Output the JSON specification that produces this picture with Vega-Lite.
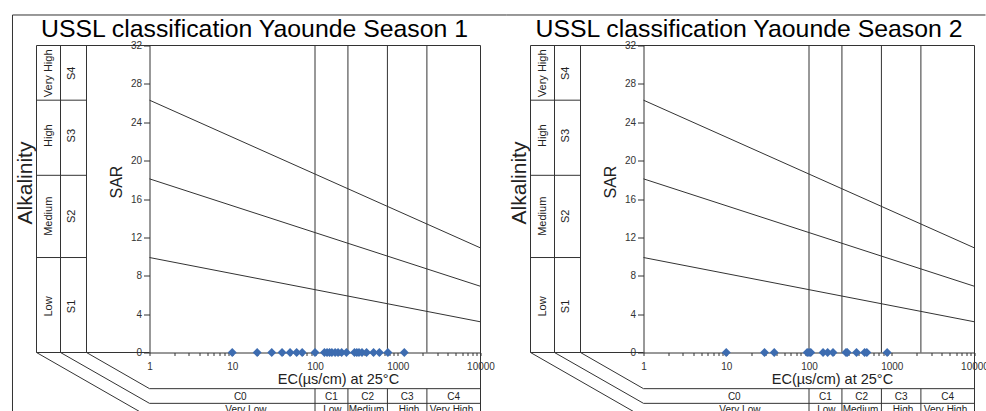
{
  "$schema": "https://vega.github.io/schema/vega-lite/v6.json",
  "padding": {"left": 11.5, "top": 13.5, "right": -2, "bottom": -3},
  "bounds": "flush",
  "spacing": 163,
  "config": {
    "view": {"stroke": null},
    "font": "Liberation Sans",
    "axis": {"grid": false, "domainColor": "#333", "tickColor": "#333", "labelColor": "#333", "labelFont": "Liberation Sans", "domainWidth": 1, "tickWidth": 1}
  },
  "datasets": {
    "frame": [
      {"part": "outer", "panel": "p1", "ec": 0.0221, "ec2": 0.0221, "sar": 35.18, "sar2": -6.15},
      {"part": "outer", "panel": "p1", "ec": 0.0221, "ec2": 20620, "sar": 35.18, "sar2": 35.18},
      {"part": "outer", "panel": "p2", "ec": 0.0221, "ec2": 13585, "sar": 35.18, "sar2": 35.18},
      {"part": "sar table", "panel": "both", "ec": 0.0431, "ec2": 0.0431, "sar": 0, "sar2": 32},
      {"part": "sar table", "panel": "both", "ec": 0.08405, "ec2": 0.08405, "sar": 0, "sar2": 32},
      {"part": "sar table", "panel": "both", "ec": 0.1733, "ec2": 0.1733, "sar": 0, "sar2": 32},
      {"part": "sar table", "panel": "both", "ec": 0.0431, "ec2": 0.1733, "sar": 26.3, "sar2": 26.3},
      {"part": "sar table", "panel": "both", "ec": 0.0431, "ec2": 0.1733, "sar": 18.47, "sar2": 18.47},
      {"part": "sar table", "panel": "both", "ec": 0.0431, "ec2": 0.1733, "sar": 9.9, "sar2": 9.9},
      {"part": "border", "panel": "both", "ec": 0.0431, "ec2": 10000, "sar": 32, "sar2": 32},
      {"part": "border", "panel": "both", "ec": 0.0431, "ec2": 1, "sar": 0, "sar2": 0},
      {"part": "border", "panel": "both", "ec": 10000, "ec2": 10000, "sar": 32, "sar2": -6.15},
      {"part": "ec class", "panel": "both", "ec": 100, "ec2": 100, "sar": 0, "sar2": 32},
      {"part": "ec class", "panel": "both", "ec": 250, "ec2": 250, "sar": 0, "sar2": 32},
      {"part": "ec class", "panel": "both", "ec": 750, "ec2": 750, "sar": 0, "sar2": 32},
      {"part": "ec class", "panel": "both", "ec": 2250, "ec2": 2250, "sar": 0, "sar2": 32},
      {"part": "ec table", "panel": "both", "ec": 100, "ec2": 100, "sar": -3.77, "sar2": -6.15},
      {"part": "ec table", "panel": "both", "ec": 250, "ec2": 250, "sar": -3.77, "sar2": -6.15},
      {"part": "ec table", "panel": "both", "ec": 750, "ec2": 750, "sar": -3.77, "sar2": -6.15},
      {"part": "ec table", "panel": "both", "ec": 2250, "ec2": 2250, "sar": -3.77, "sar2": -6.15},
      {"part": "ec table", "panel": "both", "ec": 1, "ec2": 10000, "sar": -3.77, "sar2": -3.77},
      {"part": "ec table", "panel": "both", "ec": 1, "ec2": 10000, "sar": -5.3, "sar2": -5.3},
      {"part": "diagonal", "panel": "both", "ec": 0.1733, "ec2": 1, "sar": 0, "sar2": -3.77},
      {"part": "diagonal", "panel": "both", "ec": 0.08405, "ec2": 1, "sar": 0, "sar2": -5.3},
      {"part": "diagonal", "panel": "both", "ec": 0.0431, "ec2": 0.757, "sar": 0, "sar2": -6.15},
      {"part": "hazard", "panel": "both", "ec": 1, "ec2": 10000, "sar": 26.3, "sar2": 10.9},
      {"part": "hazard", "panel": "both", "ec": 1, "ec2": 10000, "sar": 18.1, "sar2": 6.9},
      {"part": "hazard", "panel": "both", "ec": 1, "ec2": 10000, "sar": 9.9, "sar2": 3.2}
    ],
    "labels": [
      {"kind": "alk", "text": "Very High", "ec": 0.0607, "sar": 29.1},
      {"kind": "alk", "text": "High", "ec": 0.0607, "sar": 22.6},
      {"kind": "alk", "text": "Medium", "ec": 0.0607, "sar": 14.2},
      {"kind": "alk", "text": "Low", "ec": 0.0607, "sar": 4.8},
      {"kind": "alk", "text": "S4", "ec": 0.1173, "sar": 29.1},
      {"kind": "alk", "text": "S3", "ec": 0.1173, "sar": 22.6},
      {"kind": "alk", "text": "S2", "ec": 0.1173, "sar": 14.2},
      {"kind": "alk", "text": "S1", "ec": 0.1173, "sar": 4.8},
      {"kind": "big", "text": "Alkalinity", "ec": 0.032, "sar": 17.67},
      {"kind": "sar", "text": "SAR", "ec": 0.407, "sar": 17.77},
      {"kind": "ectitle", "text": "EC(µs/cm) at 25°C", "ec": 192, "sar": -2.89},
      {"kind": "ec", "text": "C0", "ec": 12.5, "sar": -4.64},
      {"kind": "ec", "text": "C1", "ec": 158, "sar": -4.64},
      {"kind": "ec", "text": "C2", "ec": 433, "sar": -4.64},
      {"kind": "ec", "text": "C3", "ec": 1299, "sar": -4.64},
      {"kind": "ec", "text": "C4", "ec": 4743, "sar": -4.64},
      {"kind": "ec", "text": "Very Low", "ec": 14.6, "sar": -5.95},
      {"kind": "ec", "text": "Low", "ec": 162, "sar": -5.95},
      {"kind": "ec", "text": "Medium", "ec": 419, "sar": -5.95},
      {"kind": "ec", "text": "High", "ec": 1368, "sar": -5.95},
      {"kind": "ec", "text": "Very High", "ec": 4466, "sar": -5.95}
    ],
    "season1": [
      {"ec": 10, "sar": 0}, {"ec": 20, "sar": 0}, {"ec": 30, "sar": 0}, {"ec": 40, "sar": 0},
      {"ec": 50, "sar": 0}, {"ec": 60, "sar": 0}, {"ec": 70, "sar": 0}, {"ec": 100, "sar": 0},
      {"ec": 130, "sar": 0}, {"ec": 140, "sar": 0}, {"ec": 150, "sar": 0}, {"ec": 160, "sar": 0},
      {"ec": 175, "sar": 0}, {"ec": 190, "sar": 0}, {"ec": 210, "sar": 0}, {"ec": 240, "sar": 0},
      {"ec": 300, "sar": 0}, {"ec": 320, "sar": 0}, {"ec": 340, "sar": 0}, {"ec": 370, "sar": 0},
      {"ec": 420, "sar": 0}, {"ec": 510, "sar": 0}, {"ec": 600, "sar": 0}, {"ec": 760, "sar": 0},
      {"ec": 1200, "sar": 0}
    ],
    "season2": [
      {"ec": 10, "sar": 0}, {"ec": 29, "sar": 0}, {"ec": 38, "sar": 0}, {"ec": 95, "sar": 0},
      {"ec": 100, "sar": 0}, {"ec": 105, "sar": 0}, {"ec": 148, "sar": 0}, {"ec": 168, "sar": 0},
      {"ec": 195, "sar": 0}, {"ec": 280, "sar": 0}, {"ec": 290, "sar": 0}, {"ec": 375, "sar": 0},
      {"ec": 470, "sar": 0}, {"ec": 500, "sar": 0}, {"ec": 880, "sar": 0}
    ]
  },
  "hconcat": [
    {
      "width": 331,
      "height": 307,
      "title": {"text": "USSL classification Yaounde Season 1", "fontSize": 24.8, "fontWeight": "normal", "font": "Liberation Sans", "color": "#000", "anchor": "middle", "frame": "group", "dx": -60.5, "offset": -47, "baseline": "alphabetic"},
      "encoding": {
        "x": {"field": "ec", "type": "quantitative", "scale": {"type": "log", "domain": [1, 10000]},
          "axis": {"title": null, "values": [1,2,3,4,5,6,7,8,9,10,20,30,40,50,60,70,80,90,100,200,300,400,500,600,700,800,900,1000,2000,3000,4000,5000,6000,7000,8000,9000,10000],
            "labelExpr": "indexof([1,10,100,1000,10000], datum.value) >= 0 ? format(datum.value, 'd') : ''",
            "tickSize": 3, "labelPadding": 6, "labelFlush": false, "labelOverlap": false, "labelFontSize": 10}},
        "y": {"field": "sar", "type": "quantitative", "scale": {"domain": [0, 32], "nice": false, "zero": false},
          "axis": {"title": null, "values": [0,4,8,12,16,20,24,28,32], "tickSize": 6, "labelPadding": 2, "labelFontSize": 10}}
      },
      "layer": [
        {"data": {"name": "frame"}, "transform": [{"filter": "datum.panel != 'p2'"}],
          "mark": {"type": "rule", "color": "#333", "strokeWidth": 1},
          "encoding": {"x2": {"field": "ec2"}, "y2": {"field": "sar2"}}},
        {"data": {"name": "labels"}, "transform": [{"filter": "datum.kind == 'alk'"}],
          "mark": {"type": "text", "angle": 270, "fontSize": 11, "align": "center", "baseline": "middle", "color": "#222"},
          "encoding": {"text": {"field": "text"}}},
        {"data": {"name": "labels"}, "transform": [{"filter": "datum.kind == 'big'"}],
          "mark": {"type": "text", "angle": 270, "fontSize": 21, "align": "center", "baseline": "middle", "color": "#222"},
          "encoding": {"text": {"field": "text"}}},
        {"data": {"name": "labels"}, "transform": [{"filter": "datum.kind == 'sar'"}],
          "mark": {"type": "text", "angle": 270, "fontSize": 16, "align": "center", "baseline": "middle", "color": "#222"},
          "encoding": {"text": {"field": "text"}}},
        {"data": {"name": "labels"}, "transform": [{"filter": "datum.kind == 'ectitle'"}],
          "mark": {"type": "text", "fontSize": 14.5, "align": "center", "baseline": "middle", "color": "#222"},
          "encoding": {"text": {"field": "text"}}},
        {"data": {"name": "labels"}, "transform": [{"filter": "datum.kind == 'ec'"}],
          "mark": {"type": "text", "fontSize": 10, "align": "center", "baseline": "middle", "color": "#222"},
          "encoding": {"text": {"field": "text"}}},
        {"data": {"name": "season1"},
          "mark": {"type": "point", "shape": "diamond", "filled": true, "size": 80, "color": "#3D6CB0", "opacity": 1}}
      ]
    },
    {
      "width": 331,
      "height": 307,
      "title": {"text": "USSL classification Yaounde Season 2", "fontSize": 24.8, "fontWeight": "normal", "font": "Liberation Sans", "color": "#000", "anchor": "middle", "frame": "group", "dx": -60, "offset": -47, "baseline": "alphabetic"},
      "encoding": {
        "x": {"field": "ec", "type": "quantitative", "scale": {"type": "log", "domain": [1, 10000]},
          "axis": {"title": null, "values": [1,2,3,4,5,6,7,8,9,10,20,30,40,50,60,70,80,90,100,200,300,400,500,600,700,800,900,1000,2000,3000,4000,5000,6000,7000,8000,9000,10000],
            "labelExpr": "indexof([1,10,100,1000,10000], datum.value) >= 0 ? format(datum.value, 'd') : ''",
            "tickSize": 3, "labelPadding": 6, "labelFlush": false, "labelOverlap": false, "labelFontSize": 10}},
        "y": {"field": "sar", "type": "quantitative", "scale": {"domain": [0, 32], "nice": false, "zero": false},
          "axis": {"title": null, "values": [0,4,8,12,16,20,24,28,32], "tickSize": 6, "labelPadding": 2, "labelFontSize": 10}}
      },
      "layer": [
        {"data": {"name": "frame"}, "transform": [{"filter": "datum.panel != 'p1'"}],
          "mark": {"type": "rule", "color": "#333", "strokeWidth": 1},
          "encoding": {"x2": {"field": "ec2"}, "y2": {"field": "sar2"}}},
        {"data": {"name": "labels"}, "transform": [{"filter": "datum.kind == 'alk'"}],
          "mark": {"type": "text", "angle": 270, "fontSize": 11, "align": "center", "baseline": "middle", "color": "#222"},
          "encoding": {"text": {"field": "text"}}},
        {"data": {"name": "labels"}, "transform": [{"filter": "datum.kind == 'big'"}],
          "mark": {"type": "text", "angle": 270, "fontSize": 21, "align": "center", "baseline": "middle", "color": "#222"},
          "encoding": {"text": {"field": "text"}}},
        {"data": {"name": "labels"}, "transform": [{"filter": "datum.kind == 'sar'"}],
          "mark": {"type": "text", "angle": 270, "fontSize": 16, "align": "center", "baseline": "middle", "color": "#222"},
          "encoding": {"text": {"field": "text"}}},
        {"data": {"name": "labels"}, "transform": [{"filter": "datum.kind == 'ectitle'"}],
          "mark": {"type": "text", "fontSize": 14.5, "align": "center", "baseline": "middle", "color": "#222"},
          "encoding": {"text": {"field": "text"}}},
        {"data": {"name": "labels"}, "transform": [{"filter": "datum.kind == 'ec'"}],
          "mark": {"type": "text", "fontSize": 10, "align": "center", "baseline": "middle", "color": "#222"},
          "encoding": {"text": {"field": "text"}}},
        {"data": {"name": "season2"},
          "mark": {"type": "point", "shape": "diamond", "filled": true, "size": 80, "color": "#3D6CB0", "opacity": 1}}
      ]
    }
  ]
}
